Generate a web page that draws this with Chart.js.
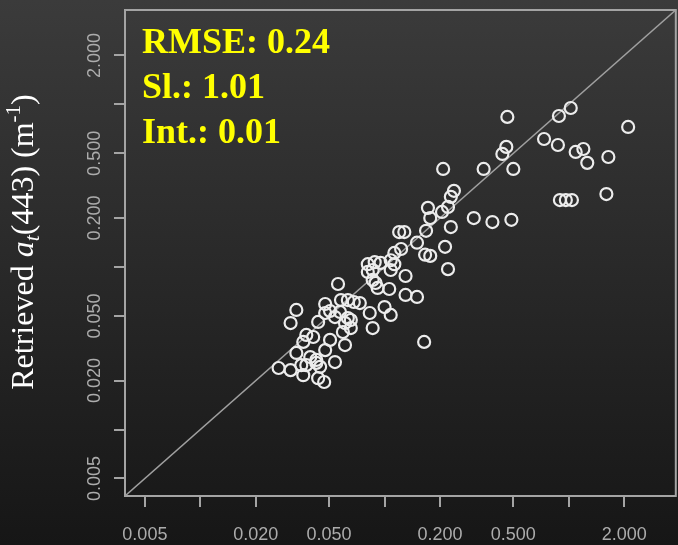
<!DOCTYPE html>
<html>
<head>
<meta charset="utf-8">
<script src="https://cdn.jsdelivr.net/npm/chart.js@4.4.1/dist/chart.umd.min.js"></script>
<style>
  html, body { margin: 0; padding: 0; overflow: hidden; background: #202020; }
  #wrap { width: 684px; height: 545px; }
</style>
</head>
<body>
<div id="wrap"><canvas id="chart" width="684" height="545"></canvas></div>
<script>
    const measured = [
        0.464, 0.884, 1.025, 2.10, 0.734, 0.873, 1.09, 1.20, 1.26, 1.64,
        0.458, 0.436, 0.500, 0.345, 0.208, 0.895, 0.964, 1.04, 1.60, 0.305,
        0.385, 0.488, 0.238, 0.229, 0.221, 0.172, 0.205, 0.177, 0.229, 0.168,
        0.120, 0.128, 0.150, 0.213, 0.123, 0.113, 0.166, 0.177, 0.221, 0.0811,
        0.0884, 0.0952, 0.108, 0.113, 0.0811, 0.0862, 0.108, 0.130, 0.0862, 0.0917,
        0.106, 0.130, 0.150, 0.0632, 0.0681, 0.0734, 0.100, 0.108, 0.0831, 0.0632,
        0.0862, 0.164, 0.0656, 0.0559, 0.0332, 0.0309, 0.0476, 0.0580, 0.0476, 0.0506,
        0.0538, 0.0436, 0.0573, 0.0610, 0.0656, 0.0594, 0.0376, 0.0410, 0.0506, 0.0610,
        0.0362, 0.0476, 0.0332, 0.0395, 0.0426, 0.0538, 0.0266, 0.0309, 0.0353, 0.0376,
        0.0362, 0.0426, 0.0447, 0.0436, 0.0470, 0.0894
    ];
    const retrieved = [
        0.838, 0.849, 0.951, 0.727, 0.613, 0.563, 0.510, 0.532, 0.437, 0.475,
        0.548, 0.496, 0.401, 0.401, 0.401, 0.258, 0.258, 0.258, 0.281, 0.200,
        0.189, 0.195, 0.294, 0.270, 0.234, 0.231, 0.218, 0.200, 0.176, 0.167,
        0.164, 0.164, 0.141, 0.133, 0.129, 0.122, 0.119, 0.117, 0.097, 0.104,
        0.107, 0.106, 0.110, 0.104, 0.0932, 0.0958, 0.0958, 0.0880, 0.0832, 0.0743,
        0.0732, 0.0673, 0.0654, 0.0626, 0.0609, 0.0600, 0.0567, 0.0507, 0.0521, 0.0485,
        0.0421, 0.0346, 0.0421, 0.0786, 0.0544, 0.0452, 0.0592, 0.0626, 0.0521, 0.0536,
        0.0492, 0.0459, 0.0529, 0.0452, 0.0472, 0.0398, 0.0382, 0.0371, 0.0356, 0.0331,
        0.0346, 0.0308, 0.0296, 0.0279, 0.0268, 0.0260, 0.0239, 0.0232, 0.0249, 0.0249,
        0.0216, 0.0257, 0.0243, 0.0207, 0.0196, 0.0797
    ];

    const axisMin = 0.0039;
    const axisMax = 3.81;
    const tickValues = [0.005, 0.01, 0.02, 0.05, 0.1, 0.2, 0.5, 1, 2];
    const tickLabels = ['0.005', '', '0.020', '0.050', '', '0.200', '0.500', '', '2.000'];
    const statLines = ['RMSE: 0.24', 'Sl.: 1.01', 'Int.: 0.01'];

    const points = measured.map((x, i) => ({ x, y: retrieved[i] }));
    const identityLine = [axisMin, axisMax].map(v => ({ x: v, y: v }));

    const AXIS_COLOR = '#a4a4a4';
    const LABEL_FONT = '18px "Liberation Sans", Arial, sans-serif';

    const framePlugin = {
        id: 'frame',
        beforeDraw(chart) {
            const { ctx, width, height } = chart;
            const g = ctx.createLinearGradient(0, 0, 0, height);
            g.addColorStop(0, '#3b3b3b');
            g.addColorStop(1, '#161616');
            ctx.save();
            ctx.fillStyle = g;
            ctx.fillRect(0, 0, width, height);
            ctx.restore();
        },
        beforeDatasetsDraw(chart) {
            const { ctx, chartArea: a, scales } = chart;
            const xs = scales.x, ys = scales.y;
            ctx.save();
            ctx.strokeStyle = AXIS_COLOR;
            ctx.lineWidth = 2;
            ctx.strokeRect(a.left, a.top, a.right - a.left, a.bottom - a.top);

            ctx.beginPath();
            tickValues.forEach(v => {
                const px = Math.round(xs.getPixelForValue(v));
                ctx.moveTo(px, a.bottom);
                ctx.lineTo(px, a.bottom + 11);
                const py = Math.round(ys.getPixelForValue(v));
                ctx.moveTo(a.left - 11, py);
                ctx.lineTo(a.left, py);
            });
            ctx.stroke();

            ctx.fillStyle = '#acacac';
            ctx.font = LABEL_FONT;
            ctx.textAlign = 'center';
            ctx.textBaseline = 'alphabetic';
            tickValues.forEach((v, i) => {
                if (!tickLabels[i]) return;
                ctx.fillText(tickLabels[i], xs.getPixelForValue(v), 540);
                ctx.save();
                ctx.translate(100, ys.getPixelForValue(v));
                ctx.rotate(-Math.PI / 2);
                ctx.fillText(tickLabels[i], 0, 0);
                ctx.restore();
            });
            ctx.restore();
        },
        afterDraw(chart) {
            const { ctx } = chart;
            ctx.save();

            // stats box
            ctx.fillStyle = '#ffff00';
            ctx.font = 'bold 36px "Liberation Serif", "Times New Roman", serif';
            ctx.textAlign = 'left';
            ctx.textBaseline = 'alphabetic';
            statLines.forEach((t, i) => ctx.fillText(t, 142, 53 + i * 45));

            // y axis title
            const serif = '"Liberation Serif", "Times New Roman", serif';
            const parts = [
                { t: 'Retrieved ', f: '32px ' + serif, dy: 0 },
                { t: 'a', f: 'italic 32px ' + serif, dy: 0 },
                { t: 't', f: 'italic 22px ' + serif, dy: 6 },
                { t: '(443) (m', f: '32px ' + serif, dy: 0 },
                { t: '-1', f: '21px ' + serif, dy: -13 },
                { t: ')', f: '32px ' + serif, dy: 0 }
            ];
            let total = 0;
            parts.forEach(p => { ctx.font = p.f; p.w = ctx.measureText(p.t).width; total += p.w; });
            ctx.translate(33, 242);
            ctx.rotate(-Math.PI / 2);
            ctx.fillStyle = '#ffffff';
            let cx = -total / 2;
            parts.forEach(p => {
                ctx.font = p.f;
                ctx.fillText(p.t, cx, p.dy);
                cx += p.w;
            });
            ctx.restore();
        }
    };

    new Chart(document.getElementById('chart').getContext('2d'), {
        type: 'scatter',
        data: {
            datasets: [{
                data: points,
                pointStyle: 'circle',
                pointRadius: 6,
                pointHoverRadius: 6,
                pointBorderWidth: 2.2,
                borderColor: '#ececec',
                backgroundColor: 'rgba(0,0,0,0)'
            }, {
                type: 'line',
                data: identityLine,
                borderColor: '#a0a0a0',
                borderWidth: 1.5,
                pointRadius: 0,
                fill: false
            }]
        },
        options: {
            responsive: false,
            animation: false,
            events: [],
            layout: { padding: { left: 125, top: 10, right: 3, bottom: 49 } },
            plugins: {
                legend: { display: false },
                tooltip: { enabled: false }
            },
            scales: {
                x: { type: 'logarithmic', min: axisMin, max: axisMax, display: false },
                y: { type: 'logarithmic', min: axisMin, max: axisMax, display: false }
            }
        },
        plugins: [framePlugin]
    });
</script>
</body>
</html>
